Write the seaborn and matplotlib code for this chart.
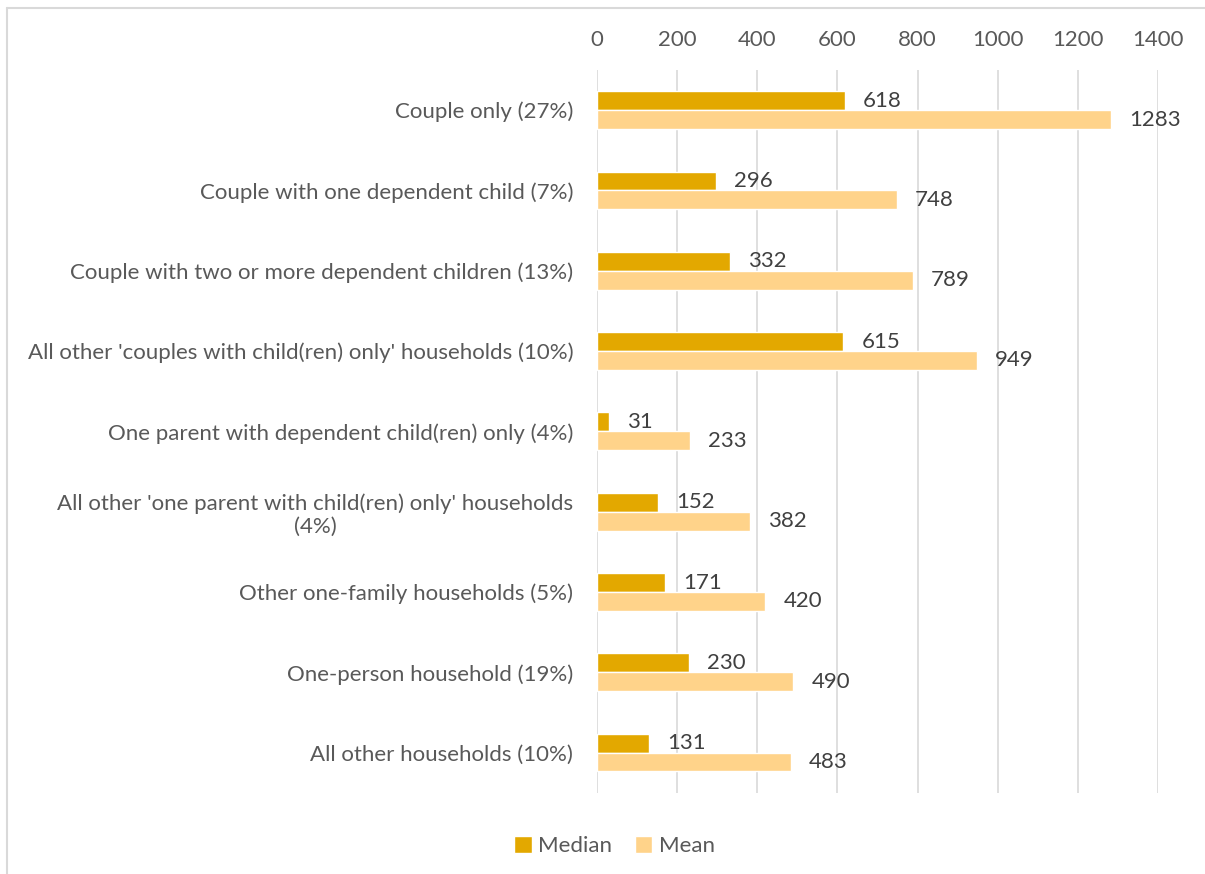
import pandas as pd
import seaborn as sns
import matplotlib.pyplot as plt
from matplotlib.lines import Line2D

# household types and wealth values
categories = [
    "Couple only (27%)",
    "Couple with one dependent child (7%)",
    "Couple with two or more dependent children (13%)",
    "All other 'couples with child(ren) only' households (10%)",
    "One parent with dependent child(ren) only (4%)",
    "All other 'one parent with child(ren) only' households\n(4%)",
    "Other one-family households (5%)",
    "One-person household (19%)",
    "All other households (10%)",
]
median_vals = [618, 296, 332, 615, 31, 152, 171, 230, 131]
mean_vals = [1283, 748, 789, 949, 233, 382, 420, 490, 483]

df = pd.DataFrame({
    "category": categories * 2,
    "value": median_vals + mean_vals,
    "stat": ["Median"] * len(categories) + ["Mean"] * len(categories),
})

sns.set_style("white")
plt.rcParams["font.family"] = ["Lato", "DejaVu Sans"]
fs = 16

fig = plt.figure(figsize=(12.05, 8.74), dpi=100)
ax = fig.add_axes([0.4954, 0.093, 0.4656, 0.827])

sns.barplot(data=df, y="category", x="value", hue="stat", orient="h",
            palette={"Median": "#E3A800", "Mean": "#FFD38A"},
            width=0.47, saturation=1, ax=ax, legend=True)

for cont in ax.containers:
    ax.bar_label(cont, padding=13, fontsize=fs, color="#404040")

ax.set_xlim(0, 1400)
ax.set_xticks(range(0, 1401, 200))
ax.xaxis.tick_top()
ax.tick_params(axis="x", length=0, labelsize=fs, labelcolor="#595959", pad=14)
ax.tick_params(axis="y", length=0, labelsize=fs, labelcolor="#595959", pad=17)
for lab in ax.get_yticklabels():
    lab.set_multialignment("center")
ax.set_xlabel("")
ax.set_ylabel("")
ax.grid(axis="x", color="#d9d9d9", lw=1.2)
ax.set_axisbelow(True)
for s in ax.spines.values():
    s.set_visible(False)

handles, labels = ax.get_legend_handles_labels()
ax.legend_.remove()
fig.legend(handles, labels, loc="lower center", bbox_to_anchor=(0.51, -0.002),
           ncol=2, frameon=False, fontsize=fs, labelcolor="#595959",
           handlelength=0.8, handleheight=0.8, handletextpad=0.3, columnspacing=1.0)

# light frame lines at top and left
fig.add_artist(Line2D([0.006, 1.0], [0.991, 0.991], color="#d9d9d9", lw=1.5))
fig.add_artist(Line2D([0.006, 0.006], [0.0, 0.991], color="#d9d9d9", lw=1.5))

fig.savefig("out.png", dpi=100)
